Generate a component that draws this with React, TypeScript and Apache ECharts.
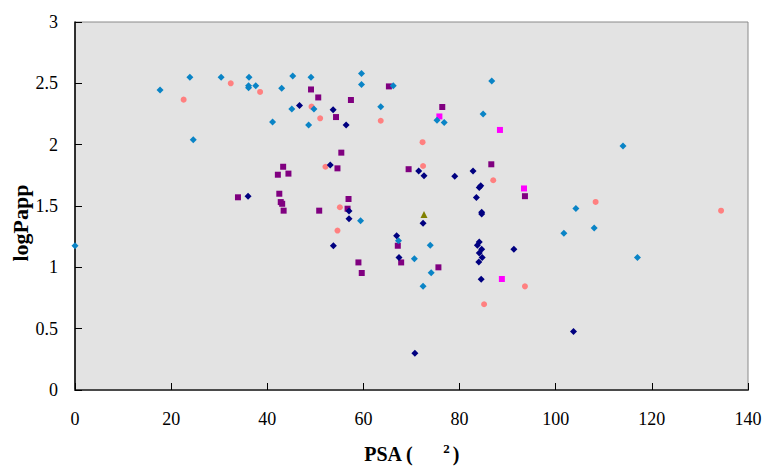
import React, { useEffect, useRef } from "react";
import * as echarts from "echarts";

// Series values: [PSA, logPapp]
const lightBluePoints: number[][] = [
  [0, 1.176], [17.7, 2.445], [23.9, 2.55], [24.6, 2.04], [30.4, 2.55], [36.2, 2.55],
  [36.1, 2.48], [36.1, 2.465], [37.6, 2.48], [41.1, 2.185], [43.0, 2.46], [45.1, 2.29],
  [45.3, 2.56], [48.6, 2.16], [49.1, 2.55], [49.7, 2.29], [59.4, 1.38], [59.6, 2.58],
  [59.6, 2.49], [63.6, 2.31], [66.2, 2.48], [67.3, 1.217], [70.6, 1.07], [72.4, 0.845],
  [73.9, 1.18], [74.1, 0.956], [75.3, 2.2], [76.8, 2.18], [84.9, 2.25], [86.7, 2.52],
  [101.7, 1.277], [104.2, 1.48], [108.0, 1.32], [114.0, 1.99], [117.0, 1.08],
];

const navyPoints: number[][] = [
  [46.7, 2.32], [53.7, 2.285], [56.4, 2.16], [53.1, 1.834], [71.5, 1.785], [36.0, 1.58],
  [57.0, 1.46], [57.0, 1.397], [53.75, 1.176], [66.9, 1.258], [67.4, 1.08], [70.7, 0.3],
  [72.6, 1.747], [79.0, 1.742], [82.8, 1.785], [84.4, 1.666], [84.1, 1.65], [83.5, 1.57],
  [84.6, 1.45], [84.6, 1.435], [72.4, 1.36], [84.1, 1.206], [83.7, 1.18], [84.6, 1.147],
  [84.1, 1.117], [84.7, 1.08], [84.0, 1.043], [91.3, 1.147], [84.5, 0.902], [103.7, 0.476],
];

const purplePoints: number[][] = [
  [49.1, 2.45], [50.6, 2.385], [57.4, 2.364], [54.3, 2.225], [65.3, 2.475], [55.4, 1.935],
  [43.3, 1.82], [42.2, 1.755], [44.4, 1.764], [54.6, 1.807], [69.4, 1.8], [33.9, 1.571],
  [42.5, 1.6], [42.8, 1.532], [43.1, 1.518], [43.4, 1.462], [50.8, 1.462], [56.9, 1.557],
  [56.7, 1.478], [58.96, 1.04], [59.65, 0.954], [67.15, 1.176], [67.85, 1.04], [76.4, 2.307],
  [86.6, 1.84], [93.6, 1.58], [75.6, 1.0],
];

const magentaPoints: number[][] = [
  [75.8, 2.23], [88.4, 2.12], [93.4, 1.643], [88.8, 0.905],
];

const salmonPoints: number[][] = [
  [32.4, 2.5], [22.6, 2.367], [38.5, 2.43], [49.2, 2.31], [51.0, 2.215], [63.6, 2.195],
  [52.1, 1.82], [55.1, 1.49], [54.6, 1.3], [72.3, 2.02], [72.4, 1.826], [87.0, 1.71],
  [108.3, 1.533], [134.4, 1.462], [93.6, 0.845], [85.1, 0.699],
];

const olivePoints: number[][] = [[72.6, 1.43]];

const xTicks = { min: 0, max: 140, interval: 20 };
const yTicks = { min: 0, max: 3, interval: 0.5 };

const serif = "'Liberation Serif', 'Times New Roman', serif";

export default function App() {
  const ref = useRef<HTMLDivElement>(null);

  useEffect(() => {
    if (!ref.current) return;
    const chart = echarts.init(ref.current, null, { renderer: "svg" });
    const scatter = (data: number[][], symbol: string, size: number, color: string) => ({
      type: "scatter",
      data,
      symbol,
      symbolSize: size,
      itemStyle: { color, opacity: 1 },
    });
    chart.setOption({
      animation: false,
      backgroundColor: "#ffffff",
      grid: {
        left: 75,
        right: 15,
        top: 22,
        bottom: 79,
        containLabel: false,
        outerBoundsMode: "none",
        show: true,
        backgroundColor: "#e3e3e3",
        borderColor: "#8a8a8a",
        borderWidth: 1,
      },
      xAxis: {
        type: "value",
        min: xTicks.min,
        max: xTicks.max,
        interval: xTicks.interval,
        splitLine: { show: false },
        axisLine: { show: true, onZero: false, lineStyle: { color: "#4a4a4a", width: 2 } },
        axisTick: { show: true, inside: true, length: 7, lineStyle: { color: "#000", width: 1 } },
        axisLabel: { color: "#000", fontFamily: serif, fontSize: 18, margin: 20 },
        name: "{a|PSA (}{g|}{s|2}{a|)}",
        nameLocation: "middle",
        nameGap: 52,
        nameMoveOverlap: false,
        nameTextStyle: {
          rich: {
            a: { fontFamily: serif, fontSize: 20, fontWeight: "bold", color: "#000" },
            g: { width: 30 },
            s: {
              fontFamily: serif,
              fontSize: 13,
              fontWeight: "bold",
              color: "#000",
              verticalAlign: "top",
              padding: [0, 3, 10, 0],
            },
          },
        },
      },
      yAxis: {
        type: "value",
        min: yTicks.min,
        max: yTicks.max,
        interval: yTicks.interval,
        splitLine: { show: false },
        axisLine: { show: true, onZero: false, lineStyle: { color: "#000", width: 1.5 } },
        axisTick: { show: true, inside: true, length: 7, lineStyle: { color: "#000", width: 1 } },
        axisLabel: { color: "#000", fontFamily: serif, fontSize: 18, margin: 17 },
        name: "logPapp",
        nameLocation: "middle",
        nameGap: 44,
        nameMoveOverlap: false,
        nameRotate: 90,
        nameTextStyle: {
          fontFamily: serif,
          fontSize: 22,
          fontWeight: "bold",
          color: "#000",
          padding: [0, 34, 0, 0],
        },
      },
      series: [
        scatter(purplePoints, "rect", 6, "#800080"),
        scatter(magentaPoints, "rect", 6, "#ff00ff"),
        scatter(salmonPoints, "circle", 6, "#ff8080"),
        scatter(lightBluePoints, "diamond", 7, "#0a84c6"),
        scatter(navyPoints, "diamond", 7, "#000080"),
        scatter(olivePoints, "triangle", 7, "#808000"),
      ],
    });
    return () => chart.dispose();
  }, []);

  return <div ref={ref} style={{ width: 763, height: 469, position: "absolute", left: 0, top: 0 }} />;
}
